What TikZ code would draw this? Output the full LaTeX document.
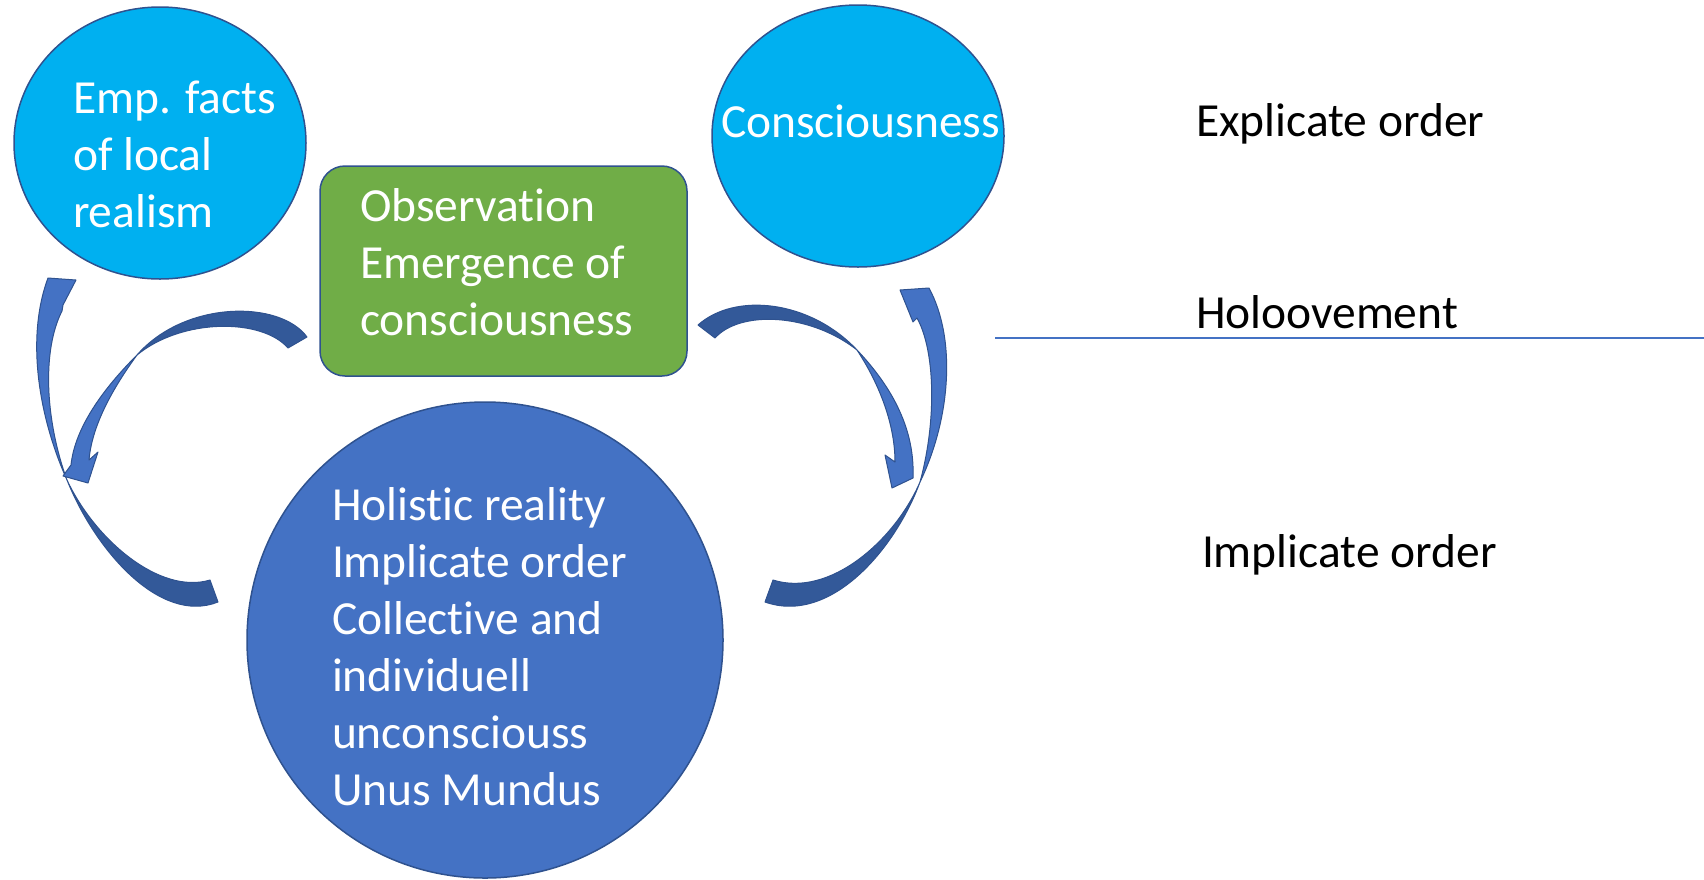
\documentclass[tikz,border=0pt]{standalone}
\usepackage{fontspec}
\setmainfont{Carlito}[Ligatures={NoCommon,NoRare,NoContextual}]
\usetikzlibrary{shapes.geometric}
\definecolor{skyfill}{HTML}{00B0F0}
\definecolor{shapeline}{HTML}{2F528F}
\definecolor{boxgreen}{HTML}{70AD47}
\definecolor{blobblue}{HTML}{4472C4}
\definecolor{backblue}{RGB}{51,89,153}
\begin{document}
\begin{tikzpicture}
[x=1pt,y=-1pt,%
  every node/.style={inner sep=0pt,outer sep=0pt},%
  shapeout/.style={draw=shapeline,line width=1.5pt},%
  bigtxt/.style={font=\fontsize{47.5}{57}\selectfont,align=left,anchor=base west},%
  intxt/.style={bigtxt,text=white},%
  arrowfront/.style={fill=blobblue,draw=shapeline,line width=1pt,line join=round},%
  arrowback/.style={fill=backblue,draw=shapeline,line width=1pt,line join=round}]
\useasboundingbox (0,0) rectangle (1704,879);
\node[ellipse,shapeout,fill=skyfill,minimum width=292pt,minimum height=272pt] (empfacts) at (160,143) {};
\node[ellipse,shapeout,fill=skyfill,minimum width=292pt,minimum height=262pt] (consc) at (858,136) {};
\node[rectangle,rounded corners=25pt,shapeout,fill=boxgreen,minimum width=367pt,minimum height=210pt] (obs) at (503.5,271) {};
\node[circle,shapeout,fill=blobblue,minimum size=476pt] (holistic) at (485,640) {};
\node[intxt] (empfactsTxt) at (73,227) {Emp. facts\\of local\\realism};
\node[intxt] (conscTxt) at (721,137) {Consciousness};
\node[intxt] (obsTxt) at (360,335) {Observation\\Emergence of\\consciousness};
\node[intxt] (holisticTxt) at (332,805) {Holistic reality\\Implicate order\\Collective and\\individuell\\unconsciouss\\Unus Mundus};
\node[bigtxt] (explicate) at (1196,136) {Explicate order};
\node[bigtxt] (holo) at (1196,328) {Holoovement};
\node[bigtxt] (implicate) at (1202,567) {Implicate order};
\coordinate (lineL) at (995,338);
\coordinate (lineR) at (1704,338);
\draw[blobblue,line width=1.2pt] (lineL) -- (lineR);
\draw[arrowback] (210,580) -- (218,602) .. controls (160,625) and (95,550) .. (67,480) .. controls (95,540) and (160,595) .. (210,580) -- cycle;
\draw[arrowfront] (67,480) .. controls (40,420) and (25,340) .. (48,278) -- (76,280) -- (63,305) -- (62,311) .. controls (42,350) and (45,420) .. (67,480) -- cycle;
\draw[arrowback] (288,348) -- (307,337) .. controls (280,300) and (185,300) .. (137,355) .. controls (182,318) and (262,318) .. (288,348) -- cycle;
\draw[arrowfront] (137,355) .. controls (104,388) and (75,427) .. (71,465) -- (63,476) -- (88,483) -- (98,452) -- (89,460) .. controls (92,425) and (113,388) .. (137,355) -- cycle;
\draw[arrowback] (773,580) -- (765,602) .. controls (830,625) and (895,550) .. (920,482) .. controls (895,540) and (830,598) .. (773,580) -- cycle;
\draw[arrowfront] (920,482) .. controls (950,420) and (957,340) .. (929,288) -- (900,290) -- (913,322) -- (917,318) .. controls (935,350) and (937,420) .. (920,482) -- cycle;
\draw[arrowback] (715,338) -- (698,325) .. controls (735,292) and (810,300) .. (857,350) .. controls (810,313) and (740,310) .. (715,338) -- cycle;
\draw[arrowfront] (857,350) .. controls (893,388) and (915,430) .. (913,478) -- (892,488) -- (885,455) -- (895,462) .. controls (895,425) and (880,385) .. (857,350) -- cycle;
\end{tikzpicture}
\end{document}
